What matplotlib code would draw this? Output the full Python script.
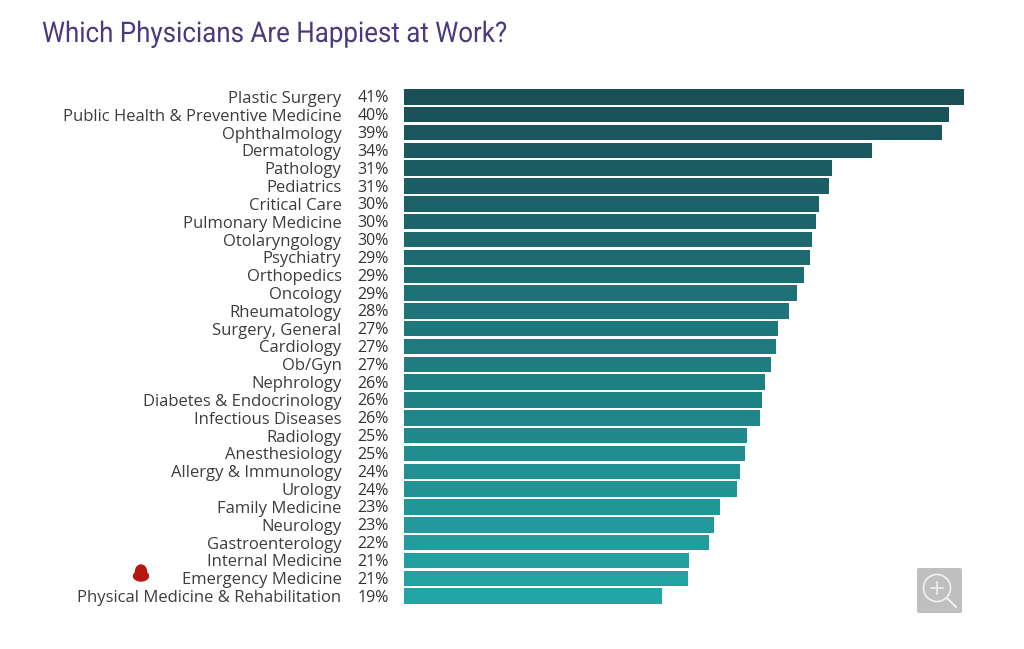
import matplotlib
matplotlib.use('Agg')
import matplotlib.pyplot as plt
import matplotlib.patheffects as pe
from matplotlib.colors import LinearSegmentedColormap
from matplotlib.patches import Circle, FancyBboxPatch, Ellipse
from matplotlib.transforms import Affine2D
import numpy as np

specialties = ['Plastic Surgery', 'Public Health & Preventive Medicine', 'Ophthalmology',
               'Dermatology', 'Pathology', 'Pediatrics', 'Critical Care', 'Pulmonary Medicine',
               'Otolaryngology', 'Psychiatry', 'Orthopedics', 'Oncology', 'Rheumatology',
               'Surgery, General', 'Cardiology', 'Ob/Gyn', 'Nephrology',
               'Diabetes & Endocrinology', 'Infectious Diseases', 'Radiology', 'Anesthesiology',
               'Allergy & Immunology', 'Urology', 'Family Medicine', 'Neurology',
               'Gastroenterology', 'Internal Medicine', 'Emergency Medicine',
               'Physical Medicine & Rehabilitation']
# bar lengths, they differ a bit from the rounded labels
values = [41.0, 39.9, 39.4, 34.3, 31.3, 31.1, 30.4, 30.2, 29.9, 29.7, 29.3, 28.8, 28.2, 27.4,
          27.2, 26.9, 26.4, 26.2, 26.1, 25.1, 25.0, 24.6, 24.4, 23.1, 22.7, 22.3, 20.9, 20.8, 18.9]
pct_labels = ['41%', '40%', '39%', '34%', '31%', '31%', '30%', '30%', '30%', '29%', '29%', '29%',
              '28%', '27%', '27%', '27%', '26%', '26%', '26%', '25%', '25%', '24%', '24%', '23%',
              '23%', '22%', '21%', '21%', '19%']

W, H = 1024, 649


class SqueezeX(pe.AbstractPathEffect):
    # no condensed font installed, so narrow the title glyphs around its left edge
    def __init__(self, x0, factor):
        super().__init__()
        self.squeeze = Affine2D().translate(-x0, 0).scale(factor, 1).translate(x0, 0)

    def draw_path(self, renderer, gc, tpath, affine, rgbFace=None):
        renderer.draw_path(gc, tpath, affine + self.squeeze, rgbFace)


fig = plt.figure(figsize=(W / 100, H / 100), dpi=100, facecolor='white')

# main bars
ax = fig.add_axes([404 / W, 1 - 605 / H, 560 / W, 517 / H])
y = np.arange(len(specialties))
cmap = LinearSegmentedColormap.from_list('teal', ['#1a4f57', '#23a5a5'])
ax.barh(y, values, height=0.87, color=cmap(np.linspace(0, 1, len(values))))
ax.set_xlim(0, 41)
ax.set_ylim(len(values) - 0.5, -0.5)
ax.set_xticks([])
ax.set_yticks(y)
ax.set_yticklabels(specialties, fontname='Open Sans', fontsize=12, color='#3d3d3d')
ax.tick_params(axis='y', length=0, pad=45)
for spine in ax.spines.values():
    spine.set_visible(False)

for i, lab in enumerate(pct_labels):
    ax.annotate(lab, xy=(0, i), xytext=(-31, -1.5), textcoords='offset pixels', ha='center',
                va='center', fontname='Open Sans', fontsize=11.5, color='#333333',
                fontweight='medium', annotation_clip=False)

fig.text(42 / W, 1 - 34.5 / H, 'Which Physicians Are Happiest at Work?', family='Roboto',
         fontsize=20.5, color='#4b3a7c', va='center', path_effects=[SqueezeX(42, 0.91)])

# overlay in pixel coords for the red mark and the zoom icon
over = fig.add_axes([0, 0, 1, 1])
over.set_xlim(0, W)
over.set_ylim(H, 0)
over.axis('off')
over.patch.set_alpha(0)
over.add_patch(Ellipse((141, 576), 15, 10, color='#b5180f'))
over.add_patch(Ellipse((141, 571.5), 11, 13, color='#b5180f'))
over.add_patch(FancyBboxPatch((917, 568), 45, 45, boxstyle='round,pad=0,rounding_size=2',
                              fc='#bfbfbf', ec='none'))
over.add_patch(Circle((937, 588), 13.5, fc='none', ec='#f2f2f2', lw=1.2))
over.plot([947, 956], [598, 607], color='#f2f2f2', lw=1.4)
over.plot([931, 943], [588, 588], color='#f2f2f2', lw=1.1)
over.plot([937, 937], [582, 594], color='#f2f2f2', lw=1.1)

fig.savefig('out.png', dpi=100)
